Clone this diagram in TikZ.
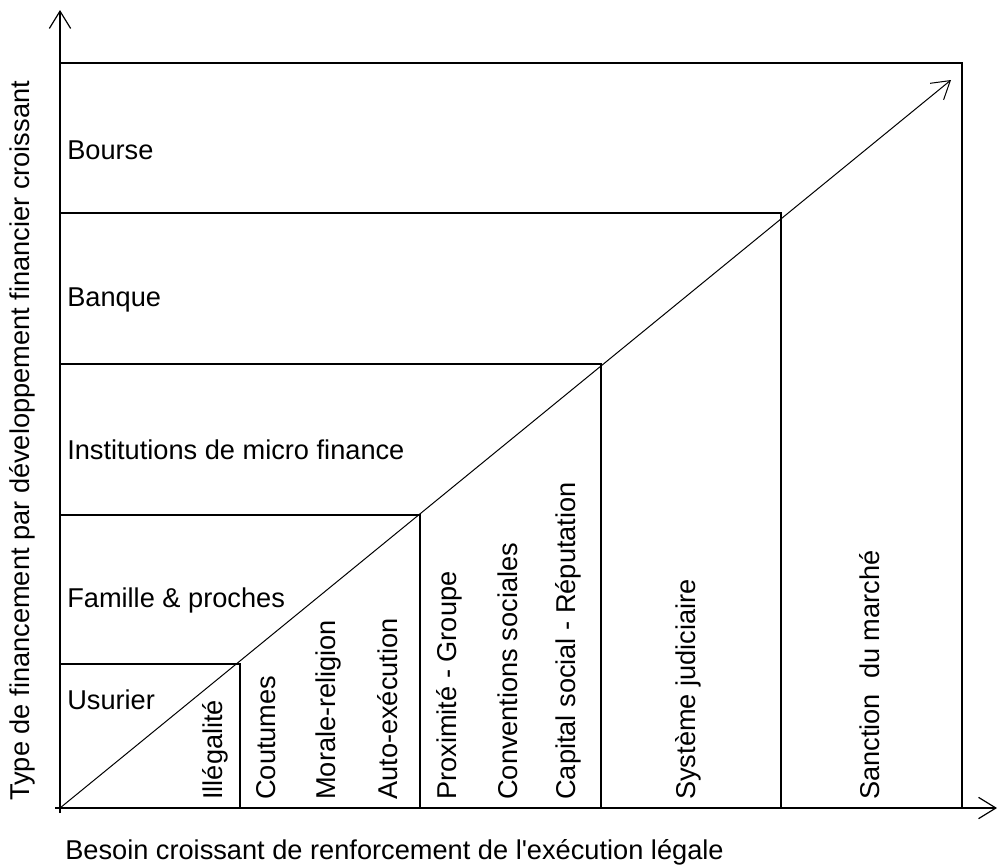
\documentclass[tikz,border=0pt]{standalone}
\usepackage{fontspec}
\setmainfont{Liberation Sans}[Ligatures=TeXOff]
\usetikzlibrary{arrows.meta}
\tikzset{
  every picture/.style={x=0.75pt, y=-0.75pt, font=\fontsize{20.4}{23}\selectfont},
  box/.style={draw=black, line width=1.9pt},
  axis/.style={-{Straight Barb[length=13pt, width=16pt]}, line width=0.9pt},
  diag/.style={-{Straight Barb[length=13pt, width=16pt]}, line width=0.75pt},
  lab/.style={anchor=west, inner sep=0pt},
  vlab/.style={anchor=west, rotate=90, inner sep=0pt},
}

\begin{document}
\begin{tikzpicture}
  \useasboundingbox (0,0) rectangle (999,865);
  \coordinate (O) at (60,808);
  \coordinate (xend) at (997,808);
  \coordinate (yend) at (60,10);
  \coordinate (tip) at (951,80);
  % axes
  \draw[axis] (55,808) -- (xend);
  \draw[axis] (60,813) -- (yend);
  % nested boxes, one per type of financing
  \foreach \n/\x/\y in {1/240/664, 2/420/515, 3/601/364, 4/781/213, 5/962/63}
    \coordinate (c\n) at (\x,\y);
  \foreach \n in {5,4,3,2,1}
    \draw[box] (O) rectangle (c\n);
  \draw[diag] (O) -- (tip);
  % financing types
  \foreach \t/\y [count=\i] in {Usurier/700, Famille \& proches/600, Institutions de micro finance/450, Banque/300, Bourse/150}
    \node[lab] (type\i) at (67,\y) {\t};
  % enforcement mechanisms
  \foreach \t/\x [count=\i] in {Illégalité/215, Coutumes/266, Morale-religion/328, Auto-exécution/388, Proximité - Groupe/449, Conventions sociales/508, Capital social - Réputation/568, Système judiciaire/688, Sanction\ \ du marché/870}
    \node[vlab] (mech\i) at (\x,800) {\t};
  % axis titles
  \node[lab] (xlab) at (65,852) {Besoin croissant de renforcement de l'exécution légale};
  \node[vlab] (ylab) at (22,801) {Type de financement par développement financier croissant};
\end{tikzpicture}
\end{document}
